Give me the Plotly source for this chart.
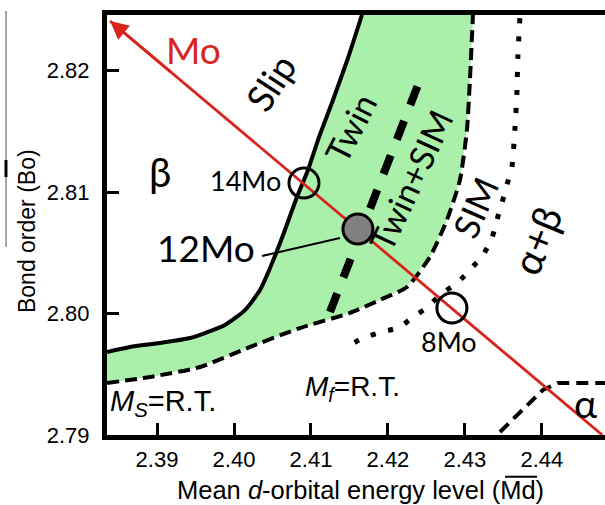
import numpy as np
import plotly.graph_objects as go

# ---------------- data ----------------
# solid boundary (Slip | Twin)
solid_md = [2.3835, 2.38649, 2.39039, 2.39429, 2.39623, 2.39883, 2.40143, 2.40338,
            2.40468, 2.40623, 2.40818, 2.40961, 2.41091, 2.41286, 2.41481, 2.41662]
solid_bo = [2.79684, 2.79725, 2.79758, 2.79799, 2.79840, 2.79906, 2.80029, 2.80194,
            2.80375, 2.80622, 2.80960, 2.81182, 2.81429, 2.81759, 2.82105, 2.82459]
# dashed boundary (Ms = R.T.)
ms_md = [2.3835, 2.38909, 2.39558, 2.40208, 2.40857, 2.41506, 2.41896, 2.42247,
         2.42545, 2.42766, 2.42935, 2.43026, 2.43065, 2.43104]
ms_bo = [2.79428, 2.79478, 2.79560, 2.79725, 2.79881, 2.80005, 2.80112, 2.80219,
         2.80466, 2.80771, 2.81100, 2.81512, 2.81924, 2.82459]
# thick dashed (Twin | Twin+SIM)
tw_md = [2.41247, 2.42390]
tw_bo = [2.80013, 2.81882]
# dotted boundary (Mf = R.T.)
mf_md = [2.43714, 2.43688, 2.43675, 2.43649, 2.43610, 2.43545, 2.43481, 2.43416,
         2.43351, 2.43234, 2.43065, 2.42896, 2.42675, 2.42519, 2.42325, 2.42156,
         2.41922, 2.41675, 2.41468]
mf_bo = [2.82434, 2.82113, 2.81816, 2.81512, 2.81207, 2.81059, 2.80911, 2.80771,
         2.80622, 2.80482, 2.80359, 2.80252, 2.80153, 2.80054, 2.79972, 2.79889,
         2.79848, 2.79799, 2.79725]
# alpha boundary
al_md = [2.43455, 2.44013, 2.44208, 2.4482]
al_bo = [2.79025, 2.79371, 2.79428, 2.79428]
# Mo vector
mo_md = [2.44785, 2.3839]
mo_bo = [2.79, 2.8241]
# alloys
alloy_names = ["14Mo", "12Mo", "8Mo"]
alloy_md = [2.40909, 2.41610, 2.42831]
alloy_bo = [2.81075, 2.80696, 2.80046]

x_ticks = [2.39, 2.40, 2.41, 2.42, 2.43, 2.44]
x_labels = ["2.39", "2.40", "2.41", "2.42", "2.43", "2.44"]
y_ticks = [2.79, 2.80, 2.81, 2.82]
y_labels = ["2.79", "2.80", "2.81", "2.82"]

X_RANGE = [2.3835, 2.4482]
Y_RANGE = [2.79, 2.82459]

RED = "#d8241c"
GREEN = "#aaf0aa"
LAB = "Lato, Open Sans, sans-serif"
ARIAL = "Liberation Sans, Arial, sans-serif"

fig = go.Figure()

# green region (between solid and Ms boundaries)
poly_x = solid_md + [ms_md[-1]] + ms_md[::-1]
poly_y = solid_bo + [ms_bo[-1]] + ms_bo[::-1]
fig.add_trace(go.Scatter(x=poly_x, y=poly_y, mode="lines", fill="toself",
                         fillcolor=GREEN, line=dict(width=0), hoverinfo="skip"))

fig.add_trace(go.Scatter(x=solid_md, y=solid_bo, mode="lines",
                         line=dict(color="black", width=4, shape="spline", smoothing=0.6)))
fig.add_trace(go.Scatter(x=ms_md, y=ms_bo, mode="lines",
                         line=dict(color="black", width=4, dash="12px,6px", shape="spline", smoothing=0.6)))
fig.add_trace(go.Scatter(x=tw_md, y=tw_bo, mode="lines",
                         line=dict(color="black", width=8, dash="20px,17px")))
fig.add_trace(go.Scatter(x=mf_md, y=mf_bo, mode="lines",
                         line=dict(color="black", width=5, dash="5px,13px", shape="spline", smoothing=0.6)))
fig.add_trace(go.Scatter(x=al_md, y=al_bo, mode="lines",
                         line=dict(color="black", width=4, dash="12px,7px")))

# Mo line
fig.add_trace(go.Scatter(x=mo_md, y=mo_bo, mode="lines", line=dict(color=RED, width=2.8)))

# alloys
fig.add_trace(go.Scatter(x=[alloy_md[0], alloy_md[2]], y=[alloy_bo[0], alloy_bo[2]], mode="markers",
                         marker=dict(symbol="circle-open", size=30, color="black",
                                     line=dict(color="black", width=3))))
fig.add_trace(go.Scatter(x=[alloy_md[1]], y=[alloy_bo[1]], mode="markers",
                         marker=dict(symbol="circle", size=30, color="#808080",
                                     line=dict(color="black", width=3))))

# leader line for 12Mo
fig.add_trace(go.Scatter(x=[2.40364, 2.41377], y=[2.80474, 2.80622], mode="lines",
                         line=dict(color="black", width=2)))

# arrow head at the top-left end of the Mo line
tail_x = 2.392
tail_y = float(np.interp(tail_x, mo_md[::-1], mo_bo[::-1]))
fig.add_annotation(x=mo_md[1], y=mo_bo[1], ax=tail_x, ay=tail_y, axref="x", ayref="y",
                   xref="x", yref="y", text="", showarrow=True, arrowhead=2,
                   arrowsize=1.3, arrowwidth=2.8, arrowcolor=RED)

def label(txt, x, y, size, angle=0, color="black", font=LAB, xanchor="center"):
    fig.add_annotation(x=x, y=y, xref="x", yref="y", text=txt, showarrow=False,
                       textangle=angle, xanchor=xanchor, yanchor="middle",
                       font=dict(family=font, size=size, color=color))

label("Mo", 2.39468, 2.82179, 37, color=RED)
label("Slip", 2.40468, 2.81907, 37, angle=-57)
label("β", 2.39039, 2.81166, 40)
label("Twin", 2.41506, 2.81536, 34, angle=-63)
label("Twin+SIM", 2.42286, 2.81100, 34, angle=-65)
label("SIM", 2.43130, 2.80878, 35, angle=-66)
label("α+β", 2.43935, 2.80606, 40, angle=-68)
label(alloy_names[0], 2.40143, 2.81092, 27)
label(alloy_names[1], 2.39636, 2.80548, 37)
label(alloy_names[2], 2.42792, 2.79766, 27)
label("<i>M</i><sub><i>S</i></sub>=R.T.", 2.38364, 2.79264, 29, font=ARIAL, xanchor="left")
label("<i>M</i><sub><i>f</i></sub>=R.T.", 2.40896, 2.79387, 28, font=ARIAL, xanchor="left")
label("α", 2.44562, 2.79264, 39)

# axis titles
fig.add_annotation(xref="paper", yref="paper", x=0.51, y=-0.131, showarrow=False,
                   text="Mean <i>d</i>-orbital energy level (Md)",
                   font=dict(family=ARIAL, size=25.5, color="black"), yanchor="middle")
fig.add_shape(type="line", xref="paper", yref="paper", x0=0.7992, x1=0.8635,
              y0=-0.0995, y1=-0.0995, line=dict(color="black", width=2))
fig.add_annotation(xref="paper", yref="paper", x=-0.1606, y=0.4857, showarrow=False,
                   text="Bond order (Bo)", textangle=-90,
                   font=dict(family=ARIAL, size=23, color="black"), xanchor="center")

# stray vertical rule at far left (with the displaced Bo overline)
fig.add_shape(type="line", xref="paper", yref="paper", x0=-0.2028, x1=-0.2028,
              y0=1.0095, y1=0.4476, line=dict(color="#8a8a8a", width=1.5))
fig.add_shape(type="line", xref="paper", yref="paper", x0=-0.2028, x1=-0.2028,
              y0=0.6548, y1=0.6143, line=dict(color="black", width=3))

fig.update_layout(
    width=605, height=505, margin=dict(l=107, r=0, t=15, b=70, autoexpand=False),
    plot_bgcolor="white", paper_bgcolor="white", showlegend=False,
    xaxis=dict(range=X_RANGE, tickvals=x_ticks, ticktext=x_labels, showgrid=False,
               zeroline=False, showline=True, linecolor="black", linewidth=5, mirror=True,
               ticks="inside", ticklen=12, tickwidth=3, tickcolor="black",
               tickfont=dict(family=ARIAL, size=22, color="black"), ticklabelstandoff=1),
    yaxis=dict(range=Y_RANGE, tickvals=y_ticks, ticktext=y_labels, showgrid=False,
               zeroline=False, showline=True, linecolor="black", linewidth=5,
               ticks="inside", ticklen=12, tickwidth=3, tickcolor="black",
               tickfont=dict(family=ARIAL, size=22, color="black"), ticklabelstandoff=8),
)

fig.write_html("out.html", config={"displayModeBar": False},
               post_script="document.body.style.margin='0px';document.body.style.overflow='hidden';")
